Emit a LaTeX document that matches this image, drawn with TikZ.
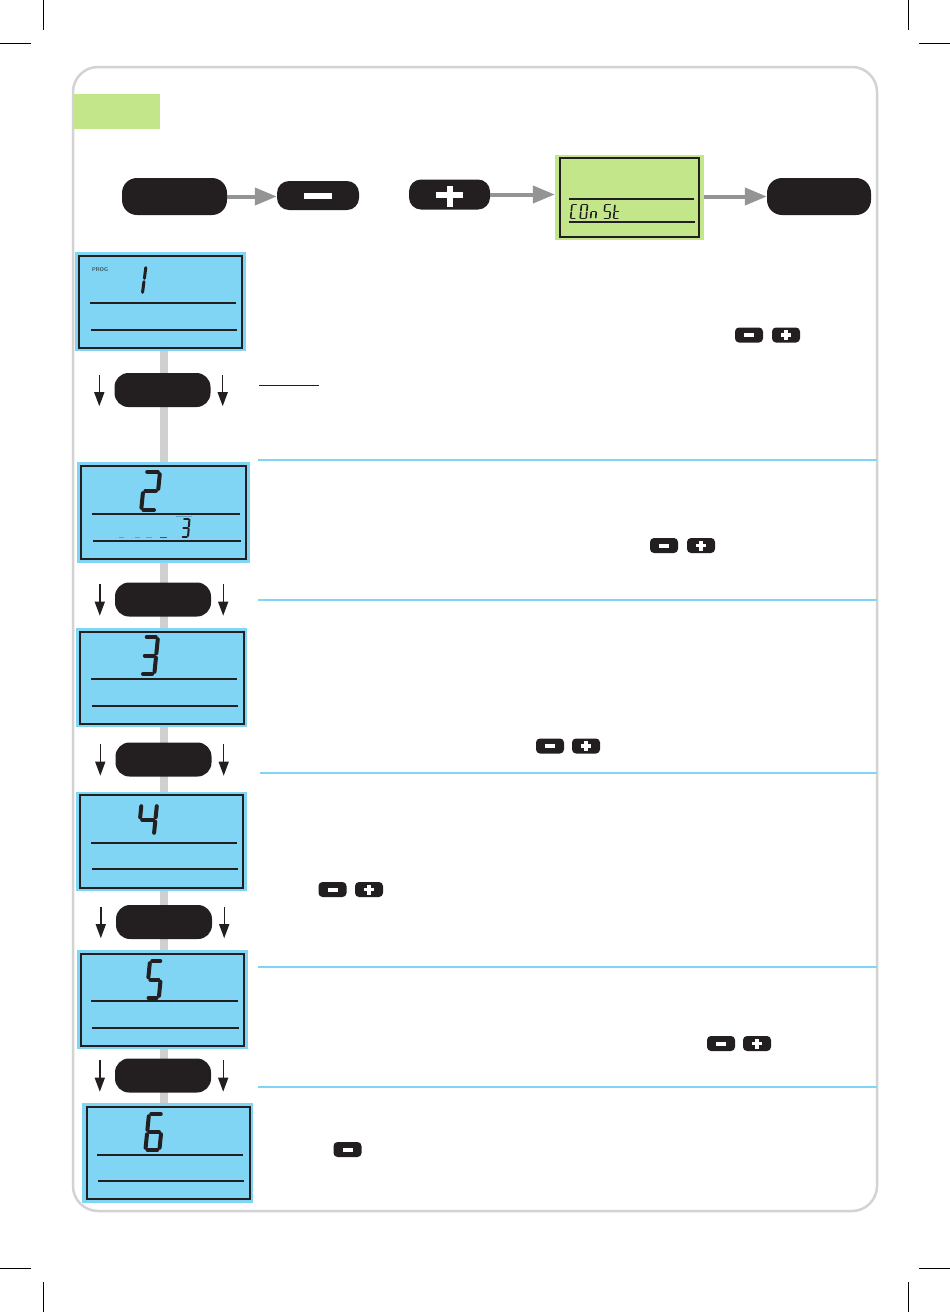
\documentclass[tikz,border=0pt]{standalone}
\usetikzlibrary{arrows.meta,fit}
\definecolor{lcdblue}{HTML}{80D5F5}
\definecolor{lcdgreen}{HTML}{C2E689}
\definecolor{pillblack}{HTML}{231F20}
\definecolor{framegray}{HTML}{D3D3D3}
\definecolor{bargray}{HTML}{D0D0D0}
\definecolor{arrowgray}{HTML}{949494}
\definecolor{faintseg}{HTML}{4FA9C8}
\definecolor{darkseg}{HTML}{2B5F70}

\def\sga{(\segG,0) -- (\segW-\segG,0)}
\def\sgb{(\segW,\segG) -- (\segW,\segH/2-\segG)}
\def\sgc{(\segW,\segH/2+\segG) -- (\segW,\segH-\segG)}
\def\sgd{(\segG,\segH) -- (\segW-\segG,\segH)}
\def\sge{(0,\segH/2+\segG) -- (0,\segH-\segG)}
\def\sgf{(0,\segG) -- (0,\segH/2-\segG)}
\def\sgg{(\segG,\segH/2) -- (\segW-\segG,\segH/2)}
\def\drawseg#1#2{\draw[seg, line width=#2pt] #1;}
% x0 y0 w h lw slant segments
\newcommand{\lcddigit}[7]{%
  \begin{scope}[shift={(#1,#2)}, xslant=#6]
    \def\segW{#3}\def\segH{#4}\pgfmathsetmacro\segG{#5*0.55}
    \foreach \s in {#7}{\expandafter\drawseg\csname sg\s\endcsname{#5}}
  \end{scope}}
\newcommand{\minusbtn}[3]{%
  \node[mini] (#1) at (#2,#3) {};
  \fill[white] ([shift={(-5,-2)}]#1.center) rectangle ++(10,4);}
\newcommand{\plusbtn}[3]{%
  \node[mini] (#1) at (#2,#3) {};
  \fill[white] ([shift={(-5,-1.8)}]#1.center) rectangle ++(10,3.6);
  \fill[white] ([shift={(-1.8,-5)}]#1.center) rectangle ++(3.6,10);}

\begin{document}
\begin{tikzpicture}[x=1pt,y=-1pt,
  pill/.style={rectangle, rounded corners=14pt, fill=pillblack, minimum width=96pt, minimum height=34pt, inner sep=0},
  bigpill/.style={pill, minimum width=105pt, minimum height=37pt, rounded corners=15pt},
  keybtn/.style={rectangle, rounded corners=12pt, fill=pillblack, minimum width=82pt, minimum height=29pt, inner sep=0},
  mini/.style={rectangle, rounded corners=4pt, fill=pillblack, minimum width=28pt, minimum height=15pt, inner sep=0},
  lcdbox/.style={rectangle, fill=lcdblue, inner sep=0},
  greenbox/.style={rectangle, fill=lcdgreen, inner sep=0},
  garrow/.style={draw=arrowgray, line width=4pt, -{Triangle[length=22pt,width=17pt]}},
  darrow/.style={draw=pillblack, line width=1.4pt, -{Triangle[length=14pt,width=10pt]}},
  sepline/.style={draw=lcdblue, line width=2pt},
  lcdline/.style={draw=pillblack, line width=1.1pt},
  lcdframe/.style={draw=pillblack, line width=1.2pt},
  crop/.style={draw=black, line width=0.9pt},
  seg/.style={draw=pillblack, line cap=round, line join=round},
]
\useasboundingbox (0,0) rectangle (950,1312);

% crop marks
\draw[crop] (43,0) -- (43,30);  \draw[crop] (0,43) -- (31,43);
\draw[crop] (908,0) -- (908,30); \draw[crop] (919,43) -- (950,43);
\draw[crop] (43,1282) -- (43,1312); \draw[crop] (0,1268) -- (31,1268);
\draw[crop] (908,1282) -- (908,1312); \draw[crop] (919,1268) -- (950,1268);

% frame
\node[fit={(73,67)(877,1211)}, inner sep=0, draw=framegray, line width=2.5pt, rounded corners=25pt] (frame) {};
\node[fit={(73,94)(160,129)}, inner sep=0, fill=lcdgreen] (tag) {};

% top row
\node[bigpill] (btnA) at (174.5,196.5) {};
\node[keybtn] (keyminus) at (318,195.5) {};
\fill[white] ([shift={(-14,-3)}]keyminus.center) rectangle ++(28,6);
\node[keybtn, minimum width=81pt, minimum height=30pt] (keyplus) at (449.5,194.5) {};
\fill[white] ([shift={(-13.5,-3)}]keyplus.center) rectangle ++(27,6);
\fill[white] ([shift={(-3,-9)}]keyplus.center) rectangle ++(6,21);
\node[greenbox, fit={(555,155)(704,240)}] (glcd) {};
\draw[lcdframe] (560,158) rectangle (699,237);
\draw[lcdline] (569,199) -- (694,199);
\draw[lcdline] (569,222) -- (695,222);
\lcddigit{572}{204.5}{5}{14}{1.6}{0.1}{a,f,e,d}
\lcddigit{581.5}{204.5}{6}{14}{1.6}{0.1}{a,b,c,d,e,f}
\lcddigit{592}{204.5}{5}{14}{1.6}{0.1}{g,c,e}
\lcddigit{605}{204.5}{6}{14}{1.6}{0.1}{a,f,g,c,d}
\lcddigit{615}{204.5}{5}{14}{1.6}{0.1}{f,e,d,g}
\node[bigpill, minimum width=104pt] (btnB) at (819,196.5) {};

\draw[garrow] (btnA.east) -- (btnA.east -| keyminus.west);
\draw[garrow] (keyplus.east) -- (keyplus.east -| glcd.west);
\draw[garrow] (glcd.east |- btnB.west) -- (btnB.west);

% central bar
\coordinate (bartop) at (163.5,350);
\coordinate (barbot) at (163.5,1104);
\draw[draw=bargray, line width=8pt] (bartop) -- (barbot);

% separators
\draw[sepline] (258,460) -- (877,460);
\draw[sepline] (258,600) -- (877,600);
\draw[sepline] (260,773) -- (877,773);
\draw[sepline] (258,967) -- (877,967);
\draw[sepline] (258,1087) -- (877,1087);
\draw[line width=1pt, pillblack] (259,385) -- (319,385);

% LCD 1
\node[lcdbox, fit={(75,252)(246,351)}] (lcd1) {};
\draw[lcdframe] (79,256) rectangle (242,348);
\draw[lcdline] (90,303) -- (236,303);
\draw[lcdline] (91,330) -- (237,330);
\node[anchor=west, inner sep=0, text=pillblack, font=\sffamily\fontsize{5.5}{6}\selectfont] (prog) at (92,269.5) {PROG};
\lcddigit{143}{266}{3}{28}{3}{0.13}{b,c}

% LCD 2
\node[lcdbox, fit={(77,462)(250,563)}] (lcd2) {};
\draw[lcdframe] (81,466) rectangle (246,559);
\draw[lcdline] (92,514) -- (240,514);
\draw[lcdline] (93,541) -- (241,541);
\lcddigit{145}{472}{15}{38}{4}{0.1}{a,b,g,e,d}
\lcddigit{183}{518.5}{6.5}{18.5}{2}{0.08}{a,b,g,c,d}
\draw[faintseg, line width=1pt] (176,516.5) -- (192,516.5);
\draw[faintseg, line width=1.2pt] (119,537.5) -- (124,537.5);
\draw[faintseg, line width=1.2pt] (135,537.5) -- (140,537.5);
\draw[faintseg, line width=1.2pt] (146,537.5) -- (152,537.5);
\draw[darkseg, line width=1.2pt] (160,537.5) -- (167,537.5);

% LCD 3
\node[lcdbox, fit={(76,628)(247,727)}] (lcd3) {};
\draw[lcdframe] (80,632) rectangle (244,724);
\draw[lcdline] (91,679) -- (237,679);
\draw[lcdline] (92,706) -- (238,706);
\lcddigit{144.5}{637}{13.5}{37}{4}{0.1}{a,b,g,c,d}

% LCD 4
\node[lcdbox, fit={(76,792)(247,891)}] (lcd4) {};
\draw[lcdframe] (80,795) rectangle (243,888);
\draw[lcdline] (91,843) -- (237,843);
\draw[lcdline] (92,869) -- (238,869);
\lcddigit{141.5}{804}{15.5}{31}{4}{0.1}{f,g,b,c}

% LCD 5
\node[lcdbox, fit={(77,950)(248,1049)}] (lcd5) {};
\draw[lcdframe] (81,954) rectangle (244,1046);
\draw[lcdline] (91,1001) -- (238,1001);
\draw[lcdline] (92,1028) -- (239,1028);
\lcddigit{150}{961}{12.5}{37}{4}{0.1}{a,f,g,c,d}

% LCD 6
\node[lcdbox, fit={(82,1103)(253,1203)}] (lcd6) {};
\draw[lcdframe] (87,1107) rectangle (250,1199);
\draw[lcdline] (97,1155) -- (243,1155);
\draw[lcdline] (98,1181) -- (244,1181);
\lcddigit{149}{1114}{14}{36}{4}{0.1}{a,f,g,e,d,c}

% step pills and arrows
\node[pill] (p1) at (162.5,390) {};
\node[pill] (p2) at (163,599.5) {};
\node[pill] (p3) at (163.5,759.5) {};
\node[pill] (p4) at (164,922) {};
\node[pill] (p5) at (163,1075.5) {};
\foreach \p in {p1,p2,p3,p4,p5}{
  \draw[darrow] ([shift={(-15,2)}]\p.north west) -- ([shift={(-15,-1)}]\p.south west);
  \draw[darrow] ([shift={(12,2)}]\p.north east) -- ([shift={(12,-1)}]\p.south east);
}

% small +/- keys
\minusbtn{m1}{749}{335}  \plusbtn{q1}{786}{335}
\minusbtn{m2}{664}{545.5} \plusbtn{q2}{701}{545.5}
\minusbtn{m3}{550}{746}  \plusbtn{q3}{586}{746}
\minusbtn{m4}{332.5}{889.5} \plusbtn{q4}{369}{889.5}
\minusbtn{m5}{721}{1043.5} \plusbtn{q5}{757}{1043.5}
\minusbtn{m6}{347.5}{1149.5}
\end{tikzpicture}
\end{document}
